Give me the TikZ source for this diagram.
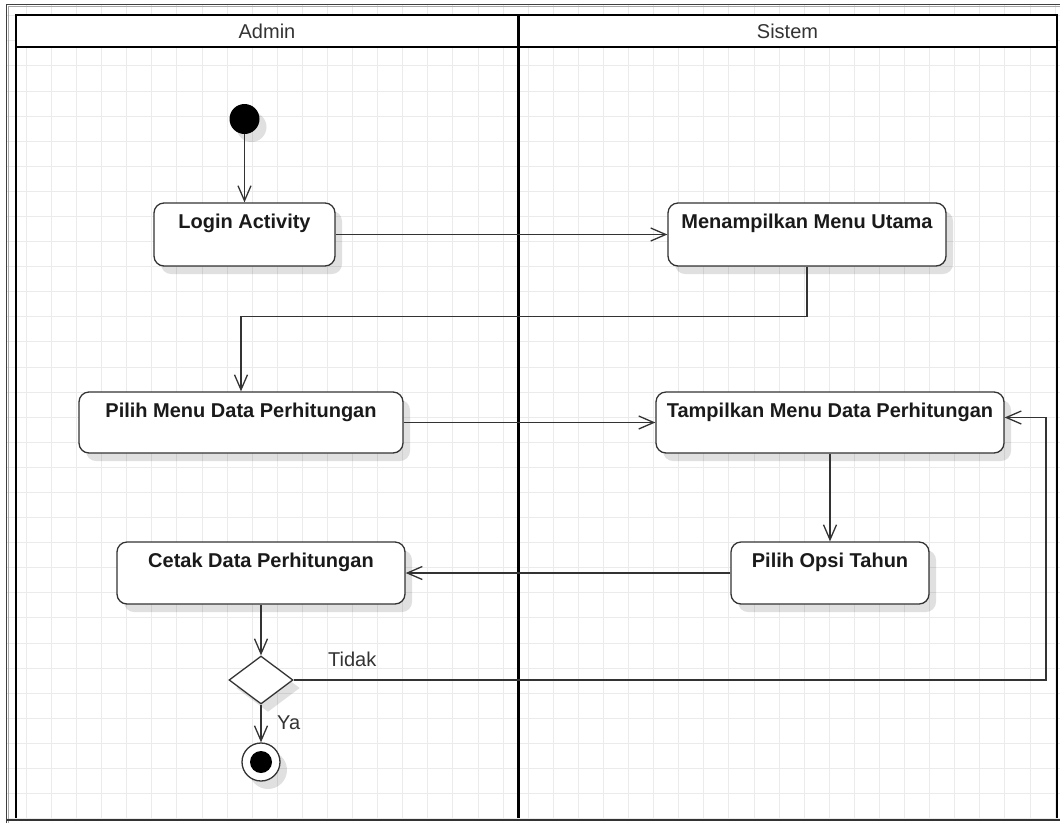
\documentclass[tikz,border=0pt]{standalone}
\usepackage{fontspec}
\setmainfont{Liberation Sans}
\usetikzlibrary{arrows.meta,shapes.geometric,shadows}
\definecolor{gridc}{HTML}{EBEBEB}
\definecolor{ink}{HTML}{333333}
\definecolor{txt}{HTML}{1A1A1A}
\begin{document}
\begin{tikzpicture}[x=1pt,y=-1pt,
  softshadow/.style={drop shadow={shadow xshift=7pt,shadow yshift=-8pt,opacity=0.12,fill=black}},
  act/.style={draw=ink,line width=1.3pt,fill=white,rounded corners=10pt,softshadow,inner sep=0pt},
  acttext/.style={anchor=base,yshift=-26pt,font=\fontsize{20}{24}\selectfont\bfseries,text=txt,inner sep=0pt},
  flow/.style={draw=ink,line width=1.3pt,-{Straight Barb[length=15pt,width=13pt]}},
  lane/.style={draw=black,line width=2.6pt},
  lanetitle/.style={font=\fontsize{20}{24}\selectfont,text=ink,inner sep=0pt,anchor=base},
  guard/.style={font=\fontsize{20}{24}\selectfont,text=ink,inner sep=0pt,anchor=base west},
]
\useasboundingbox (0,0) rectangle (1060,823);
\fill[white] (0,0) rectangle (1060,823);

% background grid
\begin{scope}
  \clip (7,5) rectangle (1060,820);
  \foreach \i in {1,...,42}
    \draw[gridc,line width=1pt] ({1.3+25.09*\i},5) -- ({1.3+25.09*\i},820);
  \foreach \k in {0,...,32}
    \draw[gridc,line width=1pt] (7,{15.8+25.09*\k}) -- (1060,{15.8+25.09*\k});
\end{scope}

% outer frame
\draw[black!75,line width=1pt] (6.5,823) -- (6.5,4.5) -- (1060,4.5);
\draw[black!35,line width=0.8pt] (8.2,823) -- (8.2,6.2) -- (1060,6.2);
\draw[black!80,line width=2pt] (6.5,820) -- (1060,820);

% swimlanes
\draw[lane,fill=white] (16,15) rectangle (1057,47);
\draw[lane] (16,47) -- (16,818);
\draw[lane] (1057,47) -- (1057,818);
\draw[lane,line width=3pt] (518,15) -- (518,818);
\node[lanetitle] (hadmin) at (267,38) {Admin};
\node[lanetitle] (hsistem) at (787.5,38) {Sistem};

% activities
\node[circle,fill=black,minimum size=30pt,inner sep=0pt,softshadow] (start) at (244.5,119) {};
\node[act,minimum width=181pt,minimum height=63pt,label={[acttext]north:Login Activity}] (login) at (244.5,234.5) {};
\node[act,minimum width=278pt,minimum height=63pt,label={[acttext]north:Menampilkan Menu Utama}] (menu) at (807,234.5) {};
\node[act,minimum width=324pt,minimum height=61pt,label={[acttext]north:Pilih Menu Data Perhitungan}] (pilih) at (241,422.5) {};
\node[act,minimum width=348pt,minimum height=61pt,label={[acttext]north:Tampilkan Menu Data Perhitungan}] (tampil) at (830,422.5) {};
\node[act,minimum width=198pt,minimum height=62pt,label={[acttext]north:Pilih Opsi Tahun}] (opsi) at (830,573) {};
\node[act,minimum width=288pt,minimum height=62pt,label={[acttext]north:Cetak Data Perhitungan}] (cetak) at (261,573) {};
\node[diamond,draw=ink,line width=1.3pt,fill=white,minimum width=64pt,minimum height=48pt,inner sep=0pt,softshadow] (dec) at (261,680) {};
\node[circle,draw=ink,line width=1.3pt,fill=white,minimum size=38pt,inner sep=0pt,softshadow] (stop) at (261,762) {};
\fill[black] (stop.center) circle[radius=11pt];

% guards
\node[guard] (tidak) at (328,666) {Tidak};
\node[guard] (ya) at (277,729) {Ya};

% control flow
\coordinate (loopcorner) at (1046,680);
\draw[flow] (start) -- (login);
\draw[flow] (login) -- (menu);
\draw[flow] (menu.south) -- ++(0,50) -| (pilih.north);
\draw[flow] (pilih) -- (tampil);
\draw[flow] (tampil) -- (opsi);
\draw[flow] (opsi) -- (cetak);
\draw[flow] (cetak) -- (dec);
\draw[flow] (dec) -- (stop);
\draw[flow] (dec.east) -- (loopcorner) |- ([yshift=5pt]tampil.east);
\end{tikzpicture}
\end{document}
